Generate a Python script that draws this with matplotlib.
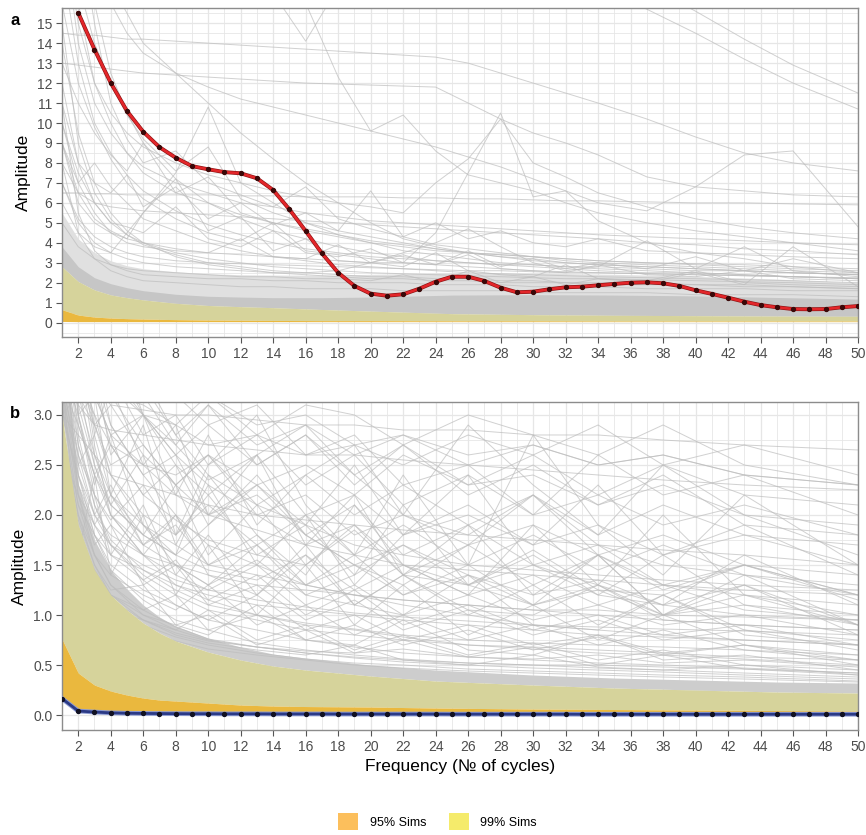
import matplotlib.pyplot as plt
import numpy as np
from matplotlib.patches import Patch

plt.rcParams['font.family'] = ['Liberation Sans', 'DejaVu Sans']

# observed spectra
red_freq = list(range(2, 51))
red_amp = [15.52, 13.68, 12.01, 10.6, 9.56, 8.79, 8.26, 7.84, 7.68, 7.54,
           7.48, 7.23, 6.64, 5.67, 4.59, 3.47, 2.5, 1.84, 1.45, 1.35,
           1.42, 1.70, 2.05, 2.30, 2.30, 2.09, 1.75, 1.52, 1.55, 1.67,
           1.77, 1.80, 1.87, 1.94, 2.0, 2.02, 1.97, 1.84, 1.62, 1.44,
           1.25, 1.05, 0.88, 0.77, 0.68, 0.67, 0.68, 0.77, 0.83]
blue_freq = list(range(1, 51))
blue_amp = [0.165, 0.04, 0.03, 0.022, 0.018, 0.016, 0.015, 0.014, 0.013, 0.013,
            0.012, 0.012, 0.012, 0.011, 0.011, 0.011, 0.011, 0.010, 0.010, 0.010,
            0.010, 0.010, 0.010, 0.010, 0.009, 0.009, 0.009, 0.009, 0.009, 0.009,
            0.009, 0.009, 0.008, 0.008, 0.008, 0.008, 0.008, 0.008, 0.008, 0.008,
            0.008, 0.008, 0.008, 0.008, 0.008, 0.008, 0.008, 0.008, 0.008, 0.008]

# simulation bands, panel a
band_a_freq = [1, 2, 3, 4, 5, 6, 8, 10, 12, 14, 17, 20, 25, 30, 35, 40, 45, 50]
a_orange_low = [0.06, 0.05, 0.05, 0.05, 0.05, 0.05, 0.05, 0.05, 0.05,
                0.05, 0.05, 0.05, 0.05, 0.05, 0.05, 0.05, 0.05, 0.05]
a_orange_high = [0.65, 0.38, 0.28, 0.23, 0.2, 0.18, 0.15, 0.13, 0.12,
                 0.11, 0.1, 0.1, 0.09, 0.09, 0.08, 0.08, 0.08, 0.08]
a_yellow_high = [2.8, 2.06, 1.64, 1.39, 1.25, 1.14, 0.97, 0.86, 0.8,
                 0.75, 0.66, 0.58, 0.45, 0.4, 0.37, 0.35, 0.33, 0.32]
a_core_high = [3.8, 2.8, 2.25, 1.95, 1.75, 1.6, 1.42, 1.32, 1.28,
               1.25, 1.25, 1.28, 1.38, 1.4, 1.38, 1.34, 1.26, 1.18]
a_halo_high = [5.5, 4.2, 3.5, 3.1, 2.85, 2.7, 2.55, 2.45, 2.4,
               2.38, 2.38, 2.42, 2.5, 2.48, 2.42, 2.32, 2.18, 2.0]

# simulation bands, panel b
band_b_freq = [1, 2, 3, 4, 5, 6, 7, 8, 10, 12, 14, 16, 20, 24, 30, 35, 40, 45, 50]
b_orange_low = [0.15, 0.03, 0.02, 0.015, 0.012, 0.01, 0.01, 0.01, 0.01, 0.01,
                0.01, 0.01, 0.01, 0.01, 0.01, 0.01, 0.01, 0.01, 0.01]
b_orange_high = [0.76, 0.42, 0.3, 0.24, 0.2, 0.17, 0.15, 0.14, 0.12, 0.1,
                 0.09, 0.085, 0.08, 0.07, 0.06, 0.055, 0.05, 0.045, 0.04]
b_yellow_high = [3.0, 1.9, 1.45, 1.2, 1.05, 0.92, 0.82, 0.74, 0.63, 0.55,
                 0.49, 0.45, 0.39, 0.34, 0.3, 0.27, 0.25, 0.23, 0.22]
b_core_high = [4.0, 2.3, 1.75, 1.45, 1.26, 1.1, 0.98, 0.89, 0.77, 0.68,
               0.61, 0.57, 0.5, 0.45, 0.4, 0.37, 0.35, 0.33, 0.32]

# individual simulated spectra, panel a
sim_a_freq = [1, 2, 3, 4, 5, 6, 8, 10, 12, 14, 16, 18, 20, 22, 24, 26, 28,
              30, 32, 34, 37, 40, 43, 46, 50]
sims_a = [
    [45, 38, 34, 31, 29, 28, 27, 26, 25, 24, 23.5, 23, 22, 21, 20.5, 20, 19.5, 19, 18.5, 18, 16.9, 15.6, 14.2, 12.9, 11.5],
    [40, 34, 30, 28, 27, 26, 25, 24, 23, 22, 21.5, 21, 20, 19.5, 19, 18.5, 18, 17.6, 17.2, 16.8, 15.7, 14.5, 13.2, 12.0, 10.7],
    [14.5, 14.4, 14.4, 14.3, 14.2, 14.2, 14.1, 14.0, 13.9, 13.8, 13.7, 13.6, 13.5, 13.4, 13.3, 13.0, 12.5, 12.0, 11.5, 11.0, 10.2, 9.3, 8.5, 8.0, 7.6],
    [13.0, 12.9, 12.8, 12.7, 12.6, 12.5, 12.4, 12.3, 12.2, 12.1, 12.0, 11.95, 11.9, 11.85, 11.8, 11.0, 10.2, 9.5, 9.0, 8.4, 7.3, 6.8, 6.6, 6.4, 6.3],
    [40, 34, 30, 27, 25, 24, 22, 20, 18.5, 16.5, 14.1, 16.8, 18, 19, 19.5, 20, 20, 20, 20, 20, 20, 20, 19.5, 19, 18.5],
    [50, 40, 34, 30, 28, 26, 24, 22, 20, 18, 16.0, 12.3, 9.6, 10.4, 8.6, 7.4, 7.0, 6.6, 6.0, 5.5, 5.0, 4.6, 4.3, 4.0, 3.6],
    [9, 6.5, 5.2, 4.6, 4.2, 4.0, 3.7, 3.5, 3.4, 3.3, 3.2, 3.1, 3.0, 3.0, 4.5, 7.5, 10.5, 6.3, 6.6, 5.1, 4.0, 3.5, 3.2, 2.8, 2.5],
    [20, 15, 12, 10.5, 9.5, 8.8, 8.0, 7.4, 7.0, 6.6, 6.3, 6.0, 5.8, 5.5, 7.0, 8.2, 10.2, 8.0, 7.3, 6.5, 5.8, 5.2, 4.8, 4.5, 4.2],
    [30, 22, 18, 16, 14.5, 13.5, 12.5, 11.8, 11.2, 10.8, 10.4, 10.0, 9.6, 9.2, 8.8, 8.3, 7.8, 7.2, 6.6, 6.0, 5.6, 6.8, 8.4, 8.6, 4.8],
    [6.5, 6.5, 6.45, 6.45, 6.4, 6.4, 6.4, 6.4, 6.35, 6.35, 6.3, 6.3, 6.3, 6.25, 6.25, 6.2, 6.2, 6.15, 6.1, 6.1, 6.05, 6.0, 6.0, 5.95, 5.9],
    [8, 6.5, 6.0, 5.8, 5.7, 5.6, 5.5, 5.4, 5.3, 5.2, 5.1, 5.0, 4.9, 4.8, 4.7, 4.6, 4.5, 4.4, 4.3, 4.2, 4.0, 3.9, 3.7, 3.6, 3.4],
    [10, 7, 5.5, 4.5, 4.0, 3.8, 3.6, 3.5, 4.2, 3.3, 3.2, 3.9, 3.0, 3.4, 2.9, 3.6, 2.8, 3.2, 2.7, 3.0, 2.7, 3.3, 2.6, 3.2, 2.5],
    [9, 6, 5, 4.5, 4.2, 5.5, 7.5, 10.8, 7.0, 6.0, 5.0, 4.4, 4.0, 3.6, 3.4, 3.2, 3.0, 2.9, 2.8, 2.7, 2.6, 2.5, 2.4, 2.3, 2.2],
    [6, 4.5, 3.8, 3.5, 4.5, 5.5, 7.2, 4.6, 5.3, 3.6, 4.2, 3.1, 3.0, 2.8, 3.5, 2.6, 2.4, 2.3, 2.9, 2.2, 2.1, 2.6, 2.0, 1.9, 1.8],
    [30, 24, 20, 17, 15.5, 14, 12.5, 11, 9.5, 8.2, 7.0, 6.0, 5.0, 4.2, 3.8, 3.5, 3.3, 3.1, 3.0, 2.9, 2.8, 2.7, 2.6, 2.5, 2.4],
    [20, 14, 11, 9.5, 8.5, 7.8, 7.0, 6.5, 6.0, 5.8, 5.5, 5.3, 5.1, 5.0, 4.9, 4.8, 4.7, 4.6, 4.5, 4.4, 4.3, 4.2, 4.1, 4.0, 3.9],
    [15, 9, 6.5, 5.2, 4.4, 3.9, 3.4, 3.0, 2.8, 2.6, 2.5, 2.4, 2.3, 2.3, 2.2, 2.2, 2.1, 2.1, 2.0, 2.0, 2.0, 1.9, 1.9, 1.8, 1.7],
    [12, 8, 6, 5, 4.8, 4.5, 5.8, 4.2, 3.8, 4.6, 3.5, 3.3, 3.7, 3.0, 2.9, 3.4, 2.7, 2.6, 2.5, 2.9, 2.4, 2.3, 2.6, 2.2, 2.1],
    [25, 16, 12, 10, 8.5, 7.5, 6.5, 7.3, 5.5, 5.0, 4.6, 4.3, 4.0, 3.8, 3.6, 3.5, 3.4, 3.3, 3.2, 3.1, 3.0, 2.9, 2.8, 2.7, 2.6],
    [9, 7, 8, 6.8, 6.0, 5.2, 4.6, 4.0, 3.6, 3.3, 3.1, 2.9, 2.8, 2.7, 2.6, 2.5, 2.45, 2.4, 2.35, 2.3, 2.25, 2.2, 2.15, 2.1, 2.0],
    [7, 5, 4, 3.5, 3.2, 3.0, 2.8, 2.7, 2.6, 2.5, 2.5, 2.6, 3.0, 3.5, 4.0, 4.7, 3.8, 3.0, 2.6, 2.8, 4.1, 2.7, 3.8, 2.6, 2.3],
    [5, 3.8, 3.2, 2.9, 2.7, 2.6, 2.5, 2.4, 2.3, 2.3, 2.2, 2.2, 2.1, 2.4, 2.0, 2.6, 2.0, 2.3, 1.9, 2.2, 2.0, 2.5, 1.9, 3.8, 1.8],
    [11, 8, 7, 6.5, 7.4, 5.8, 6.8, 5.2, 6.0, 4.9, 5.5, 4.6, 6.6, 4.3, 5.0, 4.2, 4.6, 4.0, 3.8, 4.2, 3.6, 3.5, 3.4, 3.3, 3.2],
    [11, 5.5, 3.6, 2.9, 2.6, 2.4, 2.3, 2.2, 2.2, 2.1, 2.1, 2.0, 2.0, 2.0, 1.9, 1.9, 1.9, 1.8, 1.8, 1.8, 1.7, 1.7, 1.7, 1.6, 1.6],
    [8, 4.5, 3.2, 2.6, 2.3, 2.1, 2.0, 1.9, 1.8, 1.8, 1.7, 1.7, 1.7, 1.6, 1.6, 1.6, 1.6, 1.5, 1.5, 1.5, 1.5, 1.4, 1.4, 1.4, 1.3],
    [14, 9.5, 7.0, 5.5, 4.6, 4.0, 3.3, 2.9, 2.7, 2.5, 2.4, 2.3, 2.2, 2.2, 2.1, 2.1, 2.0, 2.0, 2.0, 1.9, 1.9, 1.9, 1.8, 1.8, 1.7],
    [18, 13, 10, 8.5, 7.4, 6.6, 5.6, 4.9, 4.4, 4.0, 3.7, 3.5, 3.3, 3.2, 3.1, 3.0, 2.9, 2.9, 2.8, 2.8, 2.7, 2.6, 2.6, 2.5, 2.4],
    [35, 22, 16, 12.5, 10.5, 9.0, 7.2, 6.0, 5.2, 4.6, 4.2, 3.8, 3.5, 3.3, 3.1, 3.0, 2.9, 2.8, 2.7, 2.6, 2.5, 2.5, 2.4, 2.3, 2.2],
    [10, 7.5, 6.0, 5.0, 4.4, 4.0, 3.5, 3.2, 3.0, 2.8, 2.7, 2.6, 2.5, 2.45, 2.4, 2.35, 2.3, 2.25, 2.2, 2.2, 2.15, 2.1, 2.05, 2.0, 1.9],
    [22, 17, 14, 12, 10.4, 9.2, 7.6, 8.8, 6.2, 5.5, 5.0, 4.6, 4.3, 4.0, 3.7, 3.5, 3.3, 3.2, 3.0, 2.9, 2.8, 2.7, 2.6, 2.5, 2.4],
    [13, 11, 9.5, 8.4, 7.6, 9.0, 6.5, 6.0, 5.4, 5.0, 4.7, 4.4, 4.1, 3.9, 3.7, 3.5, 3.4, 3.3, 3.2, 3.1, 3.0, 2.95, 2.9, 2.8, 2.7],
    [7, 5.2, 4.3, 3.8, 3.5, 3.3, 3.1, 3.0, 2.95, 2.9, 2.85, 2.8, 2.75, 2.7, 2.65, 2.6, 2.6, 2.55, 2.5, 2.5, 2.45, 2.4, 2.35, 2.3, 2.25],
    [16, 12, 9.8, 8.2, 7.0, 6.2, 5.2, 4.5, 4.1, 5.0, 3.6, 3.4, 3.2, 3.0, 2.9, 2.8, 2.7, 2.6, 2.55, 2.5, 2.45, 2.4, 2.35, 2.3, 2.2],
    [28, 20, 15, 11, 9.2, 8.0, 8.6, 7.0, 6.4, 5.8, 6.8, 5.2, 4.7, 4.3, 3.9, 3.7, 3.5, 3.3, 3.1, 3.0, 2.9, 2.8, 2.7, 2.6, 2.5],
]

# individual simulated spectra, panel b
sim_b_freq = [1, 2, 3, 4, 6, 8, 10, 13, 16, 19, 22, 26, 30, 34, 38, 43, 50]
sims_b = [
    [6.0, 4.2, 3.4, 2.9, 2.4, 2.0, 1.7, 1.5, 1.3, 1.2, 1.1, 1.0, 0.9, 0.85, 0.8, 0.75, 0.7],
    [5.0, 3.3, 2.5, 2.0, 1.6, 1.3, 1.15, 1.0, 0.9, 0.85, 0.78, 0.7, 0.66, 0.62, 0.6, 0.56, 0.5],
    [4.2, 2.8, 2.1, 1.7, 1.35, 1.1, 0.95, 0.85, 0.75, 0.68, 0.62, 0.58, 0.55, 0.52, 0.5, 0.47, 0.42],
    [3.8, 2.4, 1.8, 1.45, 1.15, 0.95, 0.85, 0.72, 0.65, 0.6, 0.56, 0.52, 0.5, 0.47, 0.45, 0.42, 0.38],
    [7.0, 5.5, 4.0, 3.2, 2.7, 2.3, 2.6, 2.0, 1.7, 1.9, 1.5, 1.3, 1.6, 1.2, 1.1, 1.3, 0.9],
    [8.0, 6.0, 4.8, 3.9, 3.0, 2.5, 2.2, 2.6, 2.9, 2.4, 2.0, 1.8, 2.2, 1.7, 1.5, 1.4, 1.2],
    [3.5, 3.1, 2.9, 2.85, 2.8, 2.75, 2.7, 2.65, 2.6, 2.6, 2.55, 2.5, 2.45, 2.4, 2.35, 2.3, 2.25],
    [4.0, 3.6, 3.3, 3.1, 3.05, 3.0, 3.0, 2.95, 2.9, 2.9, 2.85, 2.85, 2.8, 2.8, 2.75, 2.7, 2.65],
    [3.3, 2.9, 2.4, 2.7, 2.2, 2.5, 1.9, 2.3, 1.8, 2.1, 1.6, 1.9, 1.5, 1.7, 1.3, 1.5, 1.2],
    [5.5, 3.0, 2.2, 1.6, 2.1, 1.4, 1.8, 1.2, 1.6, 1.1, 1.4, 1.0, 1.3, 0.9, 1.2, 0.85, 0.75],
    [3.2, 2.2, 1.6, 1.3, 1.0, 0.9, 0.8, 1.1, 0.75, 0.7, 0.95, 0.65, 0.6, 0.8, 0.55, 0.6, 0.45],
    [2.9, 2.0, 1.5, 1.2, 0.95, 0.8, 0.72, 0.65, 0.6, 0.7, 0.55, 0.5, 0.6, 0.48, 0.45, 0.5, 0.4],
    [6.5, 4.5, 3.5, 2.6, 3.0, 2.2, 2.8, 1.9, 2.4, 2.7, 2.0, 2.9, 2.3, 1.8, 2.5, 2.0, 1.6],
    [9.0, 7.0, 5.5, 4.5, 3.6, 3.2, 2.9, 3.1, 2.6, 2.8, 2.3, 2.5, 2.0, 2.6, 2.2, 2.4, 2.0],
    [4.5, 3.2, 2.6, 2.2, 1.9, 1.7, 1.5, 1.4, 1.3, 1.2, 1.15, 1.1, 1.05, 1.0, 0.95, 0.9, 0.85],
    [3.6, 2.6, 2.0, 1.7, 1.4, 1.2, 1.05, 0.95, 0.85, 0.8, 0.75, 0.7, 0.68, 0.65, 0.62, 0.58, 0.55],
    [2.6, 1.8, 1.35, 1.1, 0.9, 0.78, 0.7, 0.62, 0.56, 0.52, 0.5, 0.46, 0.44, 0.42, 0.4, 0.38, 0.34],
    [3.1, 2.1, 1.6, 1.3, 1.05, 0.88, 0.76, 0.68, 0.62, 0.57, 0.53, 0.5, 0.47, 0.45, 0.43, 0.4, 0.36],
    [5.0, 4.0, 2.8, 3.3, 2.5, 2.9, 2.0, 2.6, 1.7, 2.2, 1.4, 1.9, 1.2, 1.6, 1.0, 1.3, 0.8],
    [3.4, 1.6, 2.4, 1.4, 2.0, 1.2, 1.7, 1.0, 1.5, 0.9, 1.3, 0.8, 1.1, 0.75, 1.0, 0.7, 0.6],
    [7.5, 4.0, 3.2, 2.2, 2.9, 1.8, 2.5, 3.0, 2.1, 1.6, 2.4, 1.5, 2.8, 1.9, 1.4, 2.2, 1.5],
    [4.8, 3.5, 3.0, 2.4, 2.0, 1.8, 2.2, 1.6, 1.9, 1.4, 1.7, 1.3, 1.5, 1.2, 1.6, 1.1, 1.0],
    [2.7, 1.9, 1.45, 1.2, 1.0, 0.85, 1.05, 0.75, 0.9, 0.65, 0.8, 0.6, 0.72, 0.55, 0.65, 0.5, 0.45],
    [10, 8, 6, 4.5, 3.4, 2.8, 2.4, 2.1, 1.9, 1.7, 1.6, 1.5, 1.45, 1.4, 1.35, 1.3, 1.25],
    [3.0, 2.8, 2.6, 2.4, 2.3, 2.2, 2.1, 2.0, 1.95, 1.9, 1.85, 1.8, 1.75, 1.7, 1.65, 1.6, 1.5],
    [6, 3.8, 2.7, 2.0, 1.6, 2.0, 1.4, 1.2, 1.7, 1.1, 1.0, 1.4, 0.9, 0.85, 1.2, 0.8, 0.7],
    [4.4, 3.0, 2.3, 2.8, 1.9, 1.6, 2.4, 1.8, 1.4, 2.1, 1.5, 1.2, 1.9, 1.3, 1.1, 1.6, 1.1],
    [3.9, 2.2, 1.7, 1.9, 1.3, 1.5, 1.1, 1.3, 0.95, 1.15, 0.85, 1.05, 0.8, 0.95, 0.75, 0.85, 0.65],
    [8.5, 5.0, 3.9, 3.3, 3.0, 2.7, 3.1, 2.5, 2.8, 2.3, 2.7, 2.2, 2.5, 2.1, 2.4, 1.9, 1.8],
    [2.8, 1.95, 1.5, 1.25, 1.3, 0.9, 1.0, 0.7, 0.85, 0.62, 0.75, 0.58, 0.68, 0.5, 0.6, 0.46, 0.4],
    [5.2, 3.4, 2.9, 3.1, 2.6, 2.3, 2.0, 2.2, 1.8, 1.5, 1.7, 1.4, 1.2, 1.35, 1.1, 1.0, 0.95],
    [3.3, 2.3, 1.8, 1.5, 1.25, 1.1, 0.95, 1.2, 0.85, 1.0, 0.75, 0.9, 0.7, 0.8, 0.62, 0.7, 0.55],
    [12, 9, 7, 5, 4, 3.5, 3.2, 2.9, 3.0, 2.7, 2.8, 2.6, 2.7, 2.5, 2.6, 2.4, 2.3],
    [4.0, 2.5, 2.0, 2.3, 1.7, 2.0, 1.5, 1.8, 1.3, 1.6, 1.2, 1.5, 1.1, 1.3, 1.0, 1.2, 0.9],
    [3.7, 2.7, 2.2, 1.9, 1.6, 1.4, 1.25, 1.5, 1.1, 1.3, 1.0, 1.2, 0.95, 1.1, 0.9, 1.0, 0.8],
    [6.8, 4.6, 3.7, 2.9, 2.4, 2.6, 2.0, 2.3, 1.9, 2.5, 1.8, 2.1, 1.7, 2.3, 1.6, 1.9, 1.4],
    [2.5, 1.7, 1.3, 1.05, 0.85, 0.74, 0.66, 0.6, 0.55, 0.5, 0.47, 0.44, 0.42, 0.4, 0.38, 0.36, 0.33],
    [3.0, 3.2, 2.9, 2.5, 2.7, 2.3, 2.6, 2.1, 2.4, 2.0, 2.3, 1.9, 2.2, 1.8, 2.1, 1.8, 1.7],
    [7.2, 5.8, 4.4, 3.6, 3.0, 2.6, 2.3, 2.0, 2.2, 1.8, 2.0, 1.7, 1.9, 1.6, 1.8, 1.5, 1.4],
    [4.6, 3.0, 2.4, 2.0, 1.7, 1.9, 1.5, 1.7, 1.3, 1.5, 1.2, 1.4, 1.1, 1.25, 1.0, 1.1, 0.9],
    [5.5, 4.5, 3.8, 3.4, 3.0, 2.9, 2.7, 2.8, 2.6, 2.7, 2.5, 2.8, 2.6, 2.9, 2.5, 2.7, 2.4],
    [3.6, 3.3, 3.0, 2.7, 2.5, 2.4, 2.6, 2.3, 2.5, 2.2, 2.6, 2.3, 2.4, 2.1, 2.3, 2.0, 1.9],
    [4.2, 3.8, 3.4, 3.2, 3.1, 2.9, 3.2, 2.8, 3.1, 3.0, 2.7, 3.0, 2.8, 2.6, 2.9, 2.5, 2.3],
    [2.9, 2.1, 1.8, 1.6, 1.45, 1.3, 1.2, 1.1, 1.05, 1.0, 0.95, 0.9, 0.85, 0.8, 0.78, 0.75, 0.7],
    [2.4, 1.6, 1.25, 1.05, 0.95, 0.85, 0.75, 0.68, 0.62, 0.58, 0.55, 0.52, 0.5, 0.5, 0.48, 0.46, 0.42],
    [3.0, 2.4, 2.0, 1.8, 1.6, 1.5, 1.4, 1.3, 1.25, 1.2, 1.15, 1.1, 1.05, 1.05, 1.0, 0.98, 0.95],
    [6.2, 3.9, 2.9, 2.4, 1.9, 1.5, 1.3, 1.7, 1.2, 1.4, 2.1, 1.3, 1.1, 1.6, 1.0, 1.4, 0.9],
    [4.9, 3.1, 2.5, 2.1, 2.6, 1.7, 2.3, 1.5, 2.0, 1.3, 1.8, 2.4, 1.5, 1.3, 2.0, 1.2, 1.0],
    [3.2, 2.5, 2.8, 2.2, 1.8, 2.3, 1.6, 2.1, 1.5, 1.9, 1.4, 1.7, 1.3, 1.6, 1.25, 1.5, 1.2],
    [11, 7, 5, 4.0, 3.3, 2.8, 3.1, 2.7, 2.9, 2.6, 2.8, 2.5, 2.7, 2.5, 2.6, 2.4, 2.3],
    [3.4, 2.4, 1.9, 1.6, 1.35, 1.55, 1.15, 1.4, 1.0, 1.25, 0.9, 1.1, 0.85, 1.0, 0.8, 0.9, 0.7],
    [2.8, 2.0, 1.6, 1.4, 1.2, 1.05, 1.3, 0.9, 1.1, 0.8, 1.0, 0.75, 0.9, 0.7, 0.85, 0.65, 0.55],
    [7.8, 5.2, 4.1, 3.4, 2.8, 3.0, 2.5, 2.8, 2.3, 2.6, 2.1, 2.4, 2.0, 2.2, 1.9, 2.1, 1.8],
    [3.9, 2.9, 2.4, 2.1, 1.8, 1.6, 1.45, 1.35, 1.6, 1.25, 1.5, 1.2, 1.4, 1.1, 1.3, 1.05, 0.95],
    [2.6, 2.2, 1.9, 1.7, 1.5, 1.35, 1.25, 1.15, 1.08, 1.02, 0.98, 0.94, 0.9, 0.88, 0.86, 0.84, 0.8],
    [5.8, 3.6, 2.6, 2.1, 1.8, 1.6, 1.9, 2.4, 1.8, 1.5, 1.3, 1.7, 2.2, 1.6, 1.3, 1.2, 1.1],
    [3.1, 2.3, 1.9, 2.2, 1.7, 1.5, 1.3, 1.55, 1.2, 1.1, 1.4, 1.05, 1.0, 1.3, 0.95, 0.9, 0.85],
    [4.6, 3.8, 3.2, 2.8, 2.5, 2.2, 2.0, 1.85, 1.7, 1.6, 1.5, 1.45, 1.4, 1.35, 1.3, 1.25, 1.2],
    [2.7, 1.85, 1.45, 1.2, 1.05, 1.2, 0.85, 1.0, 0.75, 0.9, 0.7, 0.85, 0.65, 0.78, 0.6, 0.7, 0.5],
    [9.5, 6.5, 4.8, 3.9, 3.2, 2.7, 2.35, 2.6, 2.0, 2.2, 1.8, 2.0, 1.7, 1.9, 1.6, 1.8, 1.5],
    [3.5, 3.0, 3.2, 2.8, 3.0, 2.6, 2.9, 2.5, 2.8, 2.4, 2.7, 2.3, 2.6, 2.2, 2.5, 2.2, 2.1],
    [4.1, 2.7, 2.1, 1.75, 1.45, 1.25, 1.1, 1.0, 0.92, 0.86, 0.8, 0.75, 0.72, 0.7, 0.68, 0.65, 0.6],
    [3.3, 2.6, 2.2, 1.95, 2.3, 1.8, 2.1, 1.7, 2.0, 1.6, 1.9, 1.5, 1.8, 1.45, 1.7, 1.4, 1.3],
    [6.3, 4.3, 3.3, 2.7, 2.2, 1.95, 1.75, 1.6, 1.5, 1.85, 1.4, 1.3, 1.65, 1.25, 1.2, 1.5, 1.15],
    [2.55, 1.75, 1.4, 1.15, 0.95, 0.82, 0.74, 0.68, 0.64, 0.62, 0.66, 0.58, 0.56, 0.6, 0.52, 0.55, 0.48],
]

x_ticks = list(range(2, 51, 2))

GRID = '#e6e6e6'
SIM_GREY = '#bdbdbd'
YELLOW_FILL = '#d6d39b'
ORANGE_FILL = '#eab83e'


def style_axis(ax, ylim, yticks, yminor, yfmt):
    ax.set_xlim(1, 50)
    ax.set_ylim(ylim)
    ax.set_xticks(x_ticks)
    ax.set_xticks(range(1, 51, 2), minor=True)
    ax.set_yticks(yticks)
    ax.set_yticks(yminor, minor=True)
    ax.set_yticklabels([yfmt.format(v) for v in yticks])
    ax.grid(which='major', color=GRID, linewidth=0.9, zorder=0)
    ax.grid(which='minor', color=GRID, linewidth=0.6, zorder=0)
    ax.set_axisbelow(True)
    ax.tick_params(which='major', length=4, color='#555555',
                   labelsize=10, labelcolor='#4d4d4d', pad=3)
    ax.tick_params(which='minor', length=0)
    for sp in ax.spines.values():
        sp.set_color('#8c8c8c')
        sp.set_linewidth(1.0)
    ax.set_ylabel('Amplitude', fontsize=12.5, labelpad=4)


def draw_sims(ax, band_freq, core_low, core_high, halo_high, sim_freq, sims,
              orange_low, orange_high, yellow_high, core_color):
    if halo_high is not None:
        ax.fill_between(band_freq, core_low, halo_high, color='#e0e0e0',
                        linewidth=0, zorder=1)
    ax.fill_between(band_freq, core_low, core_high, color=core_color,
                    linewidth=0, zorder=1.1)
    for s in sims:
        ax.plot(sim_freq, s, color=SIM_GREY, linewidth=0.7, alpha=0.7,
                zorder=1.5)
    ax.fill_between(band_freq, orange_high, yellow_high, color=YELLOW_FILL,
                    linewidth=0, zorder=2)
    ax.fill_between(band_freq, orange_low, orange_high, color=ORANGE_FILL,
                    linewidth=0, zorder=2.1)


fig = plt.figure(figsize=(8.66, 8.35), dpi=100)
ax_a = fig.add_axes([0.0716, 0.5964, 0.9192, 0.394])
ax_b = fig.add_axes([0.0716, 0.1257, 0.9192, 0.3929])

# panel a
draw_sims(ax_a, band_a_freq, a_yellow_high, a_core_high, a_halo_high,
          sim_a_freq, sims_a, a_orange_low, a_orange_high, a_yellow_high,
          '#c6c6c6')
ax_a.plot(red_freq, red_amp, color='#8a1212', linewidth=2.8, zorder=3,
          solid_capstyle='round')
ax_a.plot(red_freq, red_amp, color='#e3262a', linewidth=1.9, zorder=3.1,
          solid_capstyle='round')
ax_a.scatter(red_freq, red_amp, s=8, color='#3a0808', zorder=4)
style_axis(ax_a, (-0.72, 15.76), list(range(0, 16)),
           [v + 0.5 for v in range(-1, 16)], '{:d}')

# panel b
draw_sims(ax_b, band_b_freq, b_yellow_high, b_core_high, None,
          sim_b_freq, sims_b, b_orange_low, b_orange_high, b_yellow_high,
          '#cdcdcd')
ax_b.plot(blue_freq, blue_amp, color='#8c9ad0', linewidth=3.4, zorder=3)
ax_b.plot(blue_freq, blue_amp, color='#2b3a86', linewidth=2.0, zorder=3.1)
ax_b.scatter(blue_freq, blue_amp, s=8, color='#111122', zorder=4)
style_axis(ax_b, (-0.15, 3.13), [0.0, 0.5, 1.0, 1.5, 2.0, 2.5, 3.0],
           [0.25, 0.75, 1.25, 1.75, 2.25, 2.75], '{:.1f}')
ax_b.set_xlabel('Frequency (№ of cycles)', fontsize=12.5, labelpad=4)

fig.text(0.012, 0.985, 'a', fontsize=12, fontweight='bold', va='top')
fig.text(0.012, 0.514, 'b', fontsize=12, fontweight='bold', va='top')

handles = [Patch(facecolor='#fcbf5c', edgecolor='none', label='95% Sims'),
           Patch(facecolor='#f5eb6b', edgecolor='none', label='99% Sims')]
fig.legend(handles=handles, loc='center', bbox_to_anchor=(0.505, 0.016),
           ncol=2, frameon=False, fontsize=9, handlelength=1.6,
           handleheight=1.7, columnspacing=1.8, handletextpad=0.9)

fig.savefig('out.png', dpi=100)
